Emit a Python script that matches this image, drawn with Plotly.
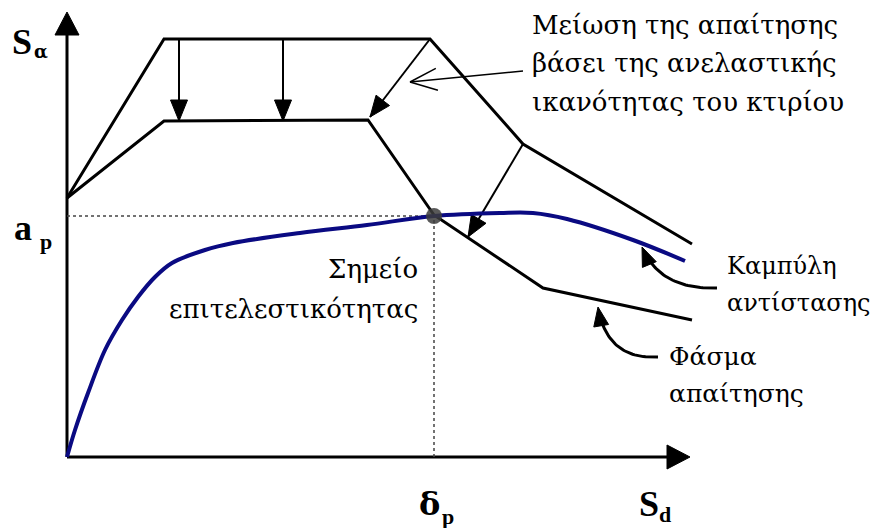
import numpy as np
import plotly.graph_objects as go

# ---- data (schematic units: Sd horizontal, Sa vertical) ----
elastic_sd = [0, 97, 363, 456, 625]
elastic_sa = [259, 418, 418, 313, 213]
reduced_sd = [0, 97, 301, 367, 476, 625]
reduced_sa = [259, 336, 337, 242, 169, 137]
capacity_sd = [0, 8, 21, 38, 55, 71, 88, 105, 138, 166, 233, 300, 367, 433, 466, 500, 566, 618]
capacity_sa = [0, 27, 64, 107, 137, 160, 180, 194, 207, 214, 224, 232, 241, 244, 244, 238, 217, 196]
perf_sd = 367
perf_sa = 241
axis_sd_max = 623
axis_sa_max = 445
reduction_arrows = [((112, 418), (112, 336)), ((216, 418), (216, 336)),
                    ((363, 418), (303, 340)), ((456, 313), (401, 220))]
pointer_arrow = ((456, 386), (343, 375))
curved_arrow_capacity = [(650, 169), (593, 167), (575, 210)]
curved_arrow_demand = [(591, 100), (540, 97), (531, 150)]

FONT_LATIN = "Liberation Serif, serif"
FONT_GREEK = "DejaVu Serif, serif"
BLACK = "#000000"
BLUE = "#0a0a82"

fig = go.Figure()


def line(xs, ys, color=BLACK, width=3, dash=None, shape="linear"):
    fig.add_trace(go.Scatter(x=xs, y=ys, mode="lines", cliponaxis=False,
                             line=dict(color=color, width=width, dash=dash, shape=shape),
                             hoverinfo="skip"))


def head(tip, direction, length, half):
    d = np.array(direction, float)
    d = d / np.linalg.norm(d)
    n = np.array([-d[1], d[0]])
    t = np.array(tip, float)
    b = t - length * d
    p1 = b + half * n
    p2 = b - half * n
    fig.add_trace(go.Scatter(x=[t[0], p1[0], p2[0], t[0]], y=[t[1], p1[1], p2[1], t[1]],
                             mode="lines", fill="toself", fillcolor=BLACK, cliponaxis=False,
                             line=dict(color=BLACK, width=1), hoverinfo="skip"))


# axes
line([0, 0], [0, axis_sa_max - 20], width=3)
head((0, axis_sa_max), (0, 1), 23, 12)
line([0, axis_sd_max - 20], [0, 0], width=3)
head((axis_sd_max, 0), (1, 0), 23, 12)

# spectra
line(elastic_sd, elastic_sa, width=3)
line(reduced_sd, reduced_sa, width=3)

# reduction arrows
for (s, e) in reduction_arrows:
    line([s[0], e[0]], [s[1], e[1]], width=2)
    head(e, (e[0] - s[0], e[1] - s[1]), 21, 8.5)

# pointer arrow (open head)
s, e = pointer_arrow
line([s[0], e[0]], [s[1], e[1]], width=1.5)
d = np.array([e[0] - s[0], e[1] - s[1]], float)
d /= np.linalg.norm(d)
nrm = np.array([-d[1], d[0]])
for sgn in (1, -1):
    b = np.array(e) - 27 * d + sgn * 11 * nrm
    line([e[0], b[0]], [e[1], b[1]], width=1.5)

# dotted guides
line([0, perf_sd], [perf_sa, perf_sa], color="#444444", width=1.5, dash="dot")
line([perf_sd, perf_sd], [0, perf_sa], color="#444444", width=1.5, dash="dot")

# capacity curve
line(capacity_sd, capacity_sa, color=BLUE, width=4, shape="spline")

# performance point
fig.add_trace(go.Scatter(x=[perf_sd], y=[perf_sa], mode="markers", cliponaxis=False,
                         marker=dict(size=16, color="rgba(60,60,60,0.85)"), hoverinfo="skip"))

# curved arrows
for pts in (curved_arrow_capacity, curved_arrow_demand):
    P = np.array(pts, float)
    t = np.linspace(0, 1, 40)[:, None]
    B = (1 - t) ** 2 * P[0] + 2 * (1 - t) * t * P[1] + t ** 2 * P[2]
    line(B[:-4, 0], B[:-4, 1], width=3)
    head(P[2], P[2] - P[1], 19, 7.5)

# texts: (text, x, y, anchor, size, bold, family)
texts = [
    ("Μείωση της απαίτησης", 463, 432, "left", 26, False, FONT_GREEK),
    ("βάσει της ανελαστικής", 463, 394, "left", 26, False, FONT_GREEK),
    ("ικανότητας του κτιρίου", 463, 355, "left", 26, False, FONT_GREEK),
    ("Καμπύλη", 658, 191, "left", 24, False, FONT_GREEK),
    ("αντίστασης", 658, 154, "left", 24, False, FONT_GREEK),
    ("Φάσμα", 600, 101, "left", 25, False, FONT_GREEK),
    ("απαίτησης", 600, 64, "left", 25, False, FONT_GREEK),
    ("Σημείο", 353, 188, "right", 26, False, FONT_GREEK),
    ("επιτελεστικότητας", 353, 148, "right", 26, False, FONT_GREEK),
    ("S", -57, 415, "left", 36, True, FONT_LATIN),
    ("α", -35, 406, "left", 18, True, FONT_GREEK),
    ("a", -55, 229, "left", 36, True, FONT_LATIN),
    ("p", -29, 216, "left", 22, True, FONT_LATIN),
    ("δ", 350, -47, "left", 32, True, FONT_GREEK),
    ("p", 373, -59, "left", 22, True, FONT_LATIN),
    ("S", 570, -47, "left", 36, True, FONT_LATIN),
    ("d", 590, -57, "left", 22, True, FONT_LATIN),
]
for txt, x, y, anchor, size, bold, fam in texts:
    fig.add_annotation(x=x, y=y, xref="x", yref="y", text=f"<b>{txt}</b>" if bold else txt,
                       showarrow=False, xanchor=anchor, yanchor="middle",
                       font=dict(family=fam, size=size, color=BLACK))

# page body keeps an 8px margin, so the figure is sized/ranged to land 1:1 on the window
fig.update_layout(width=875, height=520, margin=dict(l=0, r=0, t=0, b=0),
                  plot_bgcolor="white", paper_bgcolor="white", showlegend=False,
                  xaxis=dict(visible=False, range=[-59, 816], fixedrange=True),
                  yaxis=dict(visible=False, range=[-71, 449], fixedrange=True))

fig.write_html("out.html")
